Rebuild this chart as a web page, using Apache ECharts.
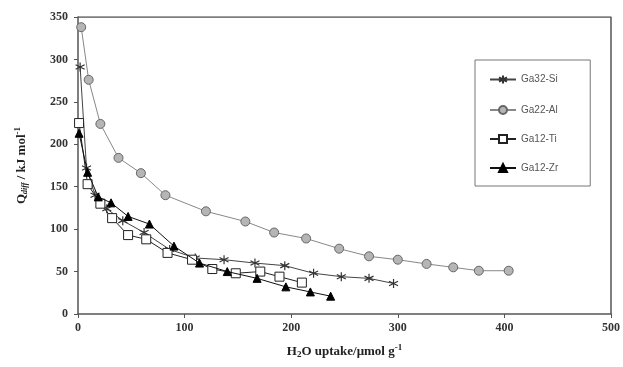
<!DOCTYPE html>
<html>
<head>
<meta charset="utf-8">
<script src="https://cdn.jsdelivr.net/npm/echarts@6/dist/echarts.min.js"></script>
<style>
  html, body { margin: 0; padding: 0; background: #fff; }
  #main { width: 623px; height: 367px; }
</style>
</head>
<body>
<div id="main"></div>
<script>
// values
var siX = [2, 8, 16, 27, 42, 62, 86, 110, 137, 166, 194, 221, 247, 273, 296];
var siY = [291, 172, 140, 124, 110, 96, 76, 66, 64, 60, 57, 48, 44, 42, 36];

var alX = [3, 10, 21, 38, 59, 82, 120, 157, 184, 214, 245, 273, 300, 327, 352, 376, 404];
var alY = [338, 276, 224, 184, 166, 140, 121, 109, 96, 89, 77, 68, 64, 59, 55, 51, 51];

var tiX = [1, 9, 21, 32, 47, 64, 84, 107, 126, 148, 171, 189, 210];
var tiY = [225, 153, 130, 113, 93, 88, 72, 64, 53, 48, 50, 44, 37];

var zrX = [1, 9, 19, 31, 47, 67, 90, 114, 140, 168, 195, 218, 237];
var zrY = [213, 167, 138, 131, 115, 106, 80, 60, 50, 42, 32, 26, 21];

var xTicks = [0, 100, 200, 300, 400, 500];

function pairs(xs, ys) {
    return xs.map(function (x, i) { return [x, ys[i]]; });
}

var starPath = 'path://M0,-5L0,5M-4.3,-2.5L4.3,2.5M-4.3,2.5L4.3,-2.5';
var serif = '"Liberation Serif", "Times New Roman", serif';

var myChart = echarts.init(document.getElementById('main'));
myChart.setOption({
    animation: false,
    backgroundColor: '#fff',
    grid: { left: 78, right: 10, top: 17, bottom: 53 },
    legend: {
        orient: 'vertical',
        left: 475,
        top: 60,
        width: 113,
        padding: [13, 32, 13, 14],
        itemGap: 19,
        itemWidth: 26,
        itemHeight: 10,
        borderColor: '#777',
        borderWidth: 1,
        textStyle: { fontFamily: 'Liberation Sans, Arial, sans-serif', fontSize: 10, color: '#555' },
        data: ['Ga32-Si', 'Ga22-Al', 'Ga12-Ti', 'Ga12-Zr']
    },
    xAxis: {
        type: 'value',
        min: 0, max: 500, interval: 100,
        name: '{b|H}{s|2}{b|O uptake/μmol g}{p|-1}',
        nameLocation: 'middle',
        nameGap: 29,
        nameTextStyle: {
            rich: {
                b: { fontFamily: serif, fontWeight: 'bold', fontSize: 13, color: '#222' },
                s: { fontFamily: serif, fontWeight: 'bold', fontSize: 9, color: '#222', padding: [6, 0, 0, 0] },
                p: { fontFamily: serif, fontWeight: 'bold', fontSize: 9, color: '#222', padding: [0, 0, 8, 0] }
            }
        },
        axisLine: { show: true, lineStyle: { color: '#555', width: 1.5 } },
        axisTick: { show: true, inside: false, length: 4, lineStyle: { color: '#555' } },
        axisLabel: {
            fontFamily: serif, fontWeight: 'bold', fontSize: 12, color: '#333', margin: 8,
            formatter: function (v) { return xTicks.indexOf(v) >= 0 ? String(v) : ''; }
        },
        splitLine: { show: false }
    },
    yAxis: {
        type: 'value',
        min: 0, max: 350, interval: 50,
        name: '{b|Q}{s|diff}{b| / kJ mol}{p|-1}',
        nameLocation: 'middle',
        nameGap: 48,
        nameRotate: 90,
        nameTextStyle: {
            rich: {
                b: { fontFamily: serif, fontWeight: 'bold', fontSize: 13, color: '#222' },
                s: { fontFamily: serif, fontWeight: 'bold', fontStyle: 'italic', fontSize: 8, color: '#222', padding: [6, 0, 0, 0] },
                p: { fontFamily: serif, fontWeight: 'bold', fontSize: 9, color: '#222', padding: [0, 0, 8, 0] }
            }
        },
        axisLine: { show: true, lineStyle: { color: '#555', width: 1.5 } },
        axisTick: { show: true, inside: false, length: 4, lineStyle: { color: '#555' } },
        axisLabel: { fontFamily: serif, fontWeight: 'bold', fontSize: 12, color: '#333', margin: 10 },
        splitLine: { show: false }
    },
    series: [
        {
            name: 'Ga32-Si', type: 'line', data: pairs(siX, siY),
            symbol: starPath, symbolSize: 9,
            lineStyle: { color: '#444', width: 1 },
            itemStyle: { color: 'none', borderColor: '#333', borderWidth: 1.2 },
            z: 2
        },
        {
            name: 'Ga22-Al', type: 'line', data: pairs(alX, alY),
            symbol: 'circle', symbolSize: 9,
            lineStyle: { color: '#888', width: 1 },
            itemStyle: { color: '#b5b5b5', borderColor: '#666', borderWidth: 1 },
            z: 3
        },
        {
            name: 'Ga12-Ti', type: 'line', data: pairs(tiX, tiY),
            symbol: 'rect', symbolSize: 9,
            lineStyle: { color: '#222', width: 1 },
            itemStyle: { color: '#fff', borderColor: '#222', borderWidth: 1 },
            z: 4
        },
        {
            name: 'Ga12-Zr', type: 'line', data: pairs(zrX, zrY),
            symbol: 'triangle', symbolSize: 8,
            lineStyle: { color: '#111', width: 1 },
            itemStyle: { color: '#000', borderColor: '#000', borderWidth: 1 },
            z: 5
        },
        {
            // plot frame (top and right edges)
            type: 'line', data: [[0, 350], [500, 350], [500, 0]],
            symbol: 'none', silent: true,
            lineStyle: { color: '#555', width: 1.5 },
            z: 1
        }
    ]
});
</script>
</body>
</html>
